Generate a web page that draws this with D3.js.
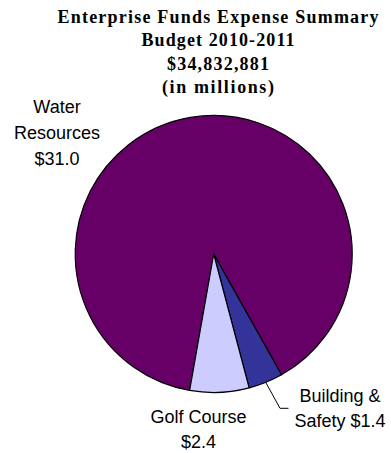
<!DOCTYPE html>
<html>
<head>
<meta charset="utf-8">
<script src="https://cdn.jsdelivr.net/npm/d3@7"></script>
<style>
  html, body { margin: 0; padding: 0; background: #fff; }
  svg { display: block; }
</style>
</head>
<body>
<script>
// Chart data
const titleLines = ["Enterprise Funds Expense Summary", "Budget 2010-2011", "$34,832,881", "(in millions)"];
const categories = ["Water Resources", "Building & Safety", "Golf Course"];
const values = [31.0, 1.4, 2.4];          // $ millions
const sliceColors = ["#660066", "#333399", "#ccccff"];

// Layout
const W = 391, H = 453;
const cx = 213.7, cy = 254, R = 138.5;
const startDeg = 190;
const titleWidths = [321, 153, 102, 112];
const labelLayout = [
  { x: 57,    y: 112.5, lh: 26 },
  { x: 340,   y: 402,   lh: 24.7, leader: [[280, 408.3], [288.5, 408.3]] },
  { x: 198.5, y: 423.3, lh: 25 }
];

const fmt = v => "$" + d3.format(".1f")(v);
const labelText = [
  v => ["Water", "Resources", fmt(v)],
  v => ["Building &", "Safety " + fmt(v)],
  v => ["Golf Course", fmt(v)]
];

const svg = d3.select("body").append("svg")
  .attr("width", W).attr("height", H);

// Title
svg.append("g").selectAll("text")
  .data(titleLines)
  .join("text")
  .attr("x", 218)
  .attr("y", (d, i) => 22.7 + i * 23.5)
  .attr("text-anchor", "middle")
  .attr("font-family", "'Liberation Serif', 'Times New Roman', serif")
  .attr("font-weight", "bold")
  .attr("font-size", 18)
  .attr("textLength", (d, i) => titleWidths[i])
  .attr("lengthAdjust", "spacing")
  .attr("fill", "#000")
  .text(d => d);

// Pie
const rad = Math.PI / 180;
const pie = d3.pie().sort(null).value(d => d.value)
  .startAngle(startDeg * rad).endAngle(startDeg * rad + 2 * Math.PI);
const slices = pie(categories.map((c, i) => ({ name: c, value: values[i], i })));
const arc = d3.arc().innerRadius(0).outerRadius(R);

const g = svg.append("g").attr("transform", `translate(${cx},${cy})`);
g.selectAll("path")
  .data(slices)
  .join("path")
  .attr("d", arc)
  .attr("fill", d => sliceColors[d.data.i])
  .attr("stroke", "#000")
  .attr("stroke-width", 1.2)
  .attr("stroke-linejoin", "round");

// Leader lines
slices.forEach(s => {
  const lay = labelLayout[s.data.i];
  if (!lay.leader) return;
  const mid = (s.startAngle + s.endAngle) / 2;
  const p0 = [cx + Math.sin(mid) * R, cy - Math.cos(mid) * R];
  svg.append("path")
    .attr("d", d3.line()([p0, ...lay.leader]))
    .attr("fill", "none")
    .attr("stroke", "#000")
    .attr("stroke-width", 1);
});

// Data labels
slices.forEach(s => {
  const lay = labelLayout[s.data.i];
  const lines = labelText[s.data.i](s.data.value);
  svg.append("g").selectAll("text")
    .data(lines)
    .join("text")
    .attr("x", lay.x)
    .attr("y", (d, j) => lay.y + j * lay.lh)
    .attr("text-anchor", "middle")
    .attr("font-family", "'Liberation Sans', Arial, sans-serif")
    .attr("font-size", 18)
    .attr("fill", "#000")
    .text(d => d);
});
</script>
</body>
</html>
